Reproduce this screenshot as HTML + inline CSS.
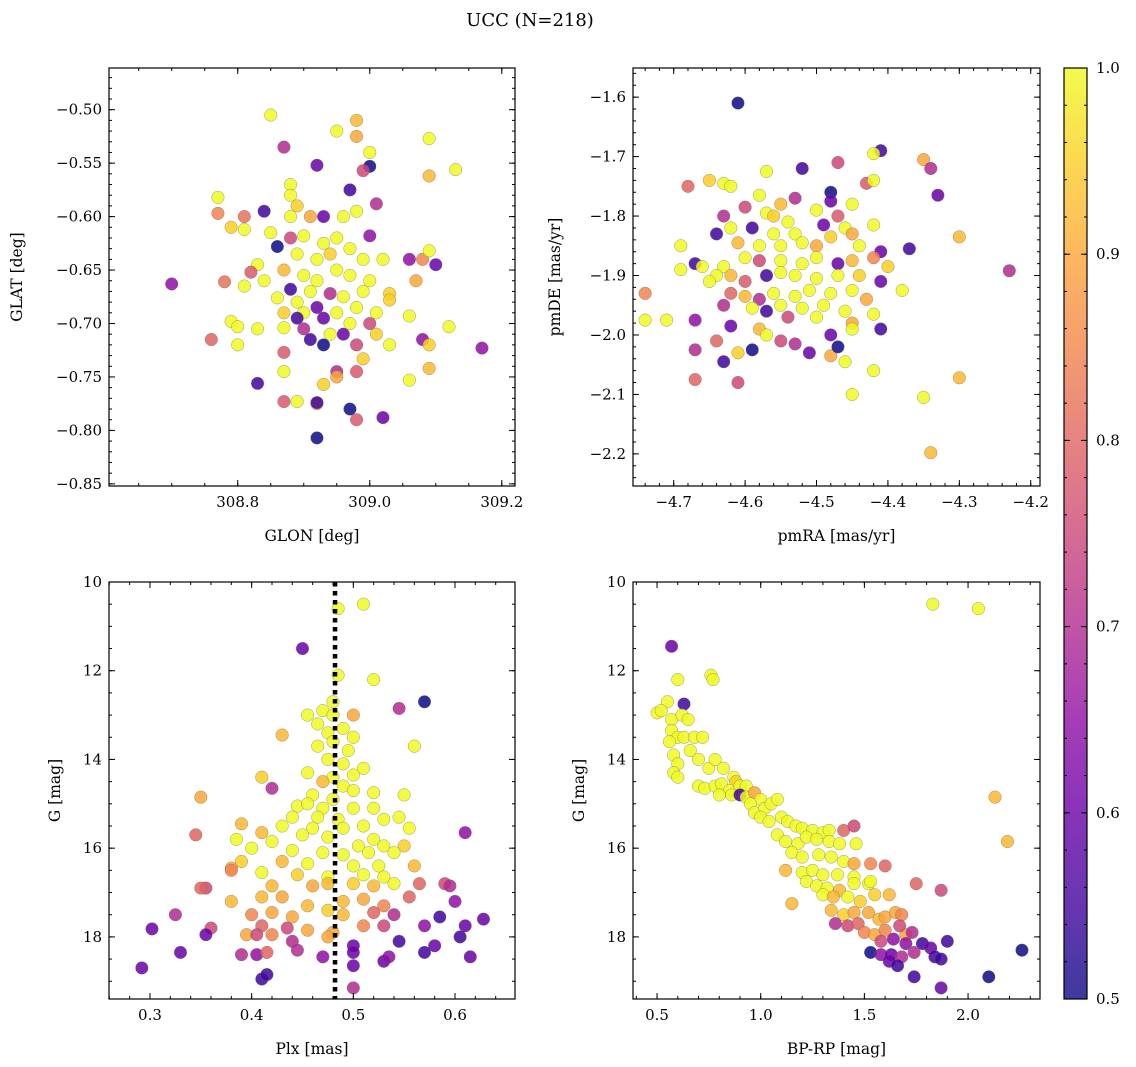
<!DOCTYPE html>
<html><head><meta charset="utf-8"><style>
html,body{margin:0;padding:0;background:#fff;}
svg{display:block;font-family:"DejaVu Serif","Liberation Serif",serif;}
</style></head><body>
<svg id="fig" width="1136" height="1067" xmlns="http://www.w3.org/2000/svg">
<text x="530" y="26" text-anchor="middle" font-size="18">UCC (N=218)</text>
</svg>
<script>
// ---------- Panel 1: GLON / GLAT ----------
const p1Glon=[308.85,308.98,308.95,308.98,309.09,308.87,309.0,308.92,309.13,309.0,308.99,309.09,308.88,308.97,308.77,308.88,309.01,308.89,308.77,308.81,308.84,308.88,308.91,308.93,308.96,308.98,308.79,308.85,308.88,308.9,308.93,308.95,308.97,309.0,308.81,308.86,308.89,308.92,308.94,308.99,309.02,309.06,309.08,309.09,309.1,308.83,308.87,308.9,308.92,308.95,308.97,309.0,308.82,308.84,308.70,308.78,308.88,308.91,308.94,308.96,308.99,309.03,309.07,308.81,308.86,308.89,308.92,308.95,308.98,309.01,309.03,308.87,308.9,308.93,308.97,309.0,309.06,309.12,308.79,308.8,308.83,308.87,308.9,308.94,308.96,309.01,308.89,308.91,309.03,309.08,309.09,308.76,308.8,308.93,308.98,309.17,308.87,308.99,308.95,308.98,308.87,309.09,308.95,308.93,308.83,309.06,308.87,308.89,308.92,308.92,308.97,308.98,309.02,308.92];
const p1Glat=[-0.505,-0.51,-0.52,-0.525,-0.527,-0.535,-0.54,-0.552,-0.556,-0.553,-0.557,-0.562,-0.57,-0.575,-0.582,-0.58,-0.588,-0.59,-0.597,-0.60,-0.595,-0.60,-0.6,-0.6,-0.6,-0.595,-0.61,-0.615,-0.62,-0.618,-0.625,-0.62,-0.63,-0.618,-0.612,-0.628,-0.635,-0.64,-0.635,-0.64,-0.64,-0.64,-0.64,-0.632,-0.645,-0.645,-0.65,-0.655,-0.66,-0.65,-0.655,-0.66,-0.652,-0.66,-0.663,-0.661,-0.668,-0.67,-0.672,-0.675,-0.67,-0.672,-0.66,-0.665,-0.676,-0.68,-0.685,-0.69,-0.685,-0.69,-0.678,-0.69,-0.69,-0.695,-0.7,-0.7,-0.693,-0.703,-0.698,-0.703,-0.705,-0.704,-0.705,-0.71,-0.71,-0.71,-0.695,-0.715,-0.72,-0.715,-0.72,-0.715,-0.72,-0.72,-0.72,-0.723,-0.727,-0.733,-0.745,-0.745,-0.745,-0.742,-0.75,-0.757,-0.756,-0.753,-0.773,-0.773,-0.775,-0.774,-0.78,-0.79,-0.788,-0.807];
const p1Prob=[1,0.92,1,0.9,1,0.7,1,0.6,1,0.5,0.75,0.92,1,0.55,1,1,0.7,0.95,0.85,0.82,0.55,1,0.9,0.6,1,1,0.95,1,0.75,1,1,1,1,0.65,1,0.5,1,1,0.95,1,1,0.65,0.85,1,0.6,1,0.92,1,1,1,1,1,0.78,1,0.65,0.82,0.55,1,0.7,1,1,0.95,0.9,1,1,1,0.6,1,1,1,0.95,0.95,1,0.6,1,0.75,1,1,1,1,1,1,0.7,1,0.6,0.95,0.55,0.55,1,0.65,0.95,0.8,1,0.5,0.75,0.65,0.78,0.95,0.7,0.78,1,0.92,0.9,0.95,0.55,1,0.78,1,0.9,0.55,0.5,0.78,0.6,0.5];
// ---------- Panel 2: pmRA / pmDE ----------
const p2PmRA=[-4.61,-4.41,-4.42,-4.35,-4.34,-4.47,-4.68,-4.65,-4.63,-4.62,-4.57,-4.52,-4.48,-4.48,-4.43,-4.42,-4.33,-4.58,-4.55,-4.53,-4.6,-4.57,-4.56,-4.54,-4.5,-4.47,-4.45,-4.63,-4.62,-4.59,-4.56,-4.53,-4.49,-4.46,-4.45,-4.42,-4.3,-4.64,-4.61,-4.58,-4.55,-4.52,-4.5,-4.48,-4.44,-4.41,-4.37,-4.69,-4.67,-4.66,-4.63,-4.6,-4.58,-4.55,-4.52,-4.5,-4.47,-4.45,-4.42,-4.4,-4.23,-4.69,-4.64,-4.62,-4.6,-4.57,-4.55,-4.53,-4.5,-4.47,-4.44,-4.41,-4.38,-4.74,-4.65,-4.62,-4.6,-4.58,-4.56,-4.53,-4.51,-4.48,-4.45,-4.43,-4.63,-4.59,-4.57,-4.55,-4.52,-4.49,-4.46,-4.42,-4.74,-4.71,-4.67,-4.62,-4.58,-4.54,-4.5,-4.45,-4.41,-4.48,-4.45,-4.64,-4.57,-4.55,-4.53,-4.51,-4.67,-4.63,-4.61,-4.59,-4.48,-4.46,-4.47,-4.42,-4.67,-4.61,-4.3,-4.45,-4.35,-4.34];
const p2PmDE=[-1.61,-1.69,-1.695,-1.705,-1.72,-1.71,-1.75,-1.74,-1.745,-1.75,-1.725,-1.72,-1.76,-1.775,-1.745,-1.74,-1.765,-1.765,-1.78,-1.77,-1.785,-1.795,-1.8,-1.81,-1.79,-1.8,-1.78,-1.8,-1.82,-1.82,-1.83,-1.83,-1.815,-1.82,-1.83,-1.815,-1.835,-1.83,-1.845,-1.85,-1.85,-1.845,-1.85,-1.835,-1.85,-1.86,-1.855,-1.85,-1.88,-1.885,-1.885,-1.87,-1.875,-1.875,-1.88,-1.87,-1.88,-1.875,-1.87,-1.885,-1.892,-1.89,-1.9,-1.9,-1.91,-1.9,-1.895,-1.9,-1.905,-1.9,-1.9,-1.91,-1.925,-1.93,-1.91,-1.93,-1.935,-1.94,-1.93,-1.935,-1.925,-1.93,-1.925,-1.94,-1.95,-1.955,-1.96,-1.95,-1.955,-1.95,-1.96,-1.965,-1.975,-1.975,-1.975,-1.985,-1.99,-1.97,-1.97,-1.98,-1.99,-2.0,-1.99,-2.01,-2.0,-2.01,-2.015,-2.03,-2.025,-2.045,-2.03,-2.025,-2.035,-2.045,-2.02,-2.06,-2.075,-2.08,-2.072,-2.1,-2.105,-2.198];
const p2Prob=[0.5,0.55,1,0.9,0.7,0.75,0.8,0.95,1,1,1,0.55,0.5,0.6,0.78,1,0.6,1,0.92,0.7,0.75,1,0.95,1,1,0.78,1,0.7,1,0.55,1,1,0.6,1,0.9,1,0.92,0.55,0.92,1,1,1,0.9,0.95,1,0.6,0.55,1,0.55,1,1,1,0.75,1,1,1,0.6,0.92,0.85,0.95,0.7,1,1,0.92,0.78,0.55,1,1,1,1,0.95,0.6,1,0.85,1,0.8,0.92,0.7,1,1,1,1,1,0.9,0.7,1,0.55,1,1,1,1,1,1,1,0.65,0.6,0.92,0.75,1,0.9,0.55,0.6,1,0.8,1,0.75,0.7,0.6,0.7,0.55,0.95,0.5,0.9,1,0.5,1,0.8,0.75,0.92,1,1,0.92];
// ---------- Panel 3: Plx / G ----------
const p3Plx=[0.485,0.51,0.45,0.485,0.52,0.57,0.48,0.47,0.48,0.5,0.455,0.545,0.465,0.49,0.475,0.5,0.43,0.48,0.465,0.495,0.56,0.475,0.49,0.51,0.5,0.48,0.41,0.455,0.47,0.49,0.42,0.5,0.52,0.35,0.46,0.48,0.55,0.445,0.455,0.47,0.5,0.52,0.44,0.465,0.485,0.53,0.545,0.39,0.43,0.46,0.49,0.51,0.555,0.345,0.41,0.45,0.475,0.52,0.61,0.385,0.42,0.505,0.53,0.55,0.4,0.44,0.47,0.49,0.515,0.54,0.39,0.43,0.455,0.5,0.525,0.56,0.38,0.41,0.445,0.475,0.51,0.53,0.355,0.35,0.38,0.42,0.46,0.475,0.5,0.52,0.54,0.565,0.59,0.595,0.38,0.41,0.43,0.455,0.49,0.51,0.53,0.555,0.6,0.325,0.4,0.42,0.44,0.475,0.49,0.52,0.54,0.585,0.628,0.36,0.41,0.435,0.455,0.48,0.51,0.53,0.57,0.61,0.302,0.355,0.395,0.405,0.42,0.44,0.475,0.5,0.545,0.58,0.605,0.33,0.39,0.405,0.415,0.445,0.47,0.5,0.53,0.535,0.57,0.615,0.292,0.41,0.415,0.5,0.5];
const p3G=[10.6,10.5,11.5,12.1,12.2,12.7,12.7,12.9,13.0,13.0,13.0,12.85,13.2,13.3,13.4,13.5,13.45,13.6,13.7,13.8,13.7,14.0,14.1,14.2,14.35,14.4,14.4,14.3,14.5,14.6,14.65,14.7,14.75,14.85,14.8,14.9,14.8,15.05,15.0,15.1,15.1,15.1,15.3,15.3,15.35,15.35,15.3,15.45,15.5,15.55,15.55,15.5,15.55,15.7,15.65,15.7,15.75,15.8,15.65,15.8,15.85,15.95,15.95,15.95,16.0,16.05,16.1,16.15,16.1,16.1,16.3,16.3,16.35,16.4,16.4,16.4,16.45,16.55,16.6,16.65,16.6,16.65,16.9,16.9,16.5,16.85,16.85,16.8,16.8,16.85,16.8,16.8,16.8,16.85,17.2,17.1,17.1,17.3,17.2,17.15,17.3,17.1,17.2,17.5,17.5,17.45,17.55,17.4,17.5,17.45,17.5,17.55,17.6,17.8,17.75,17.8,17.85,17.9,17.75,17.75,17.75,17.75,17.82,17.95,17.95,17.95,17.95,18.1,18.0,18.2,18.1,18.2,18.0,18.35,18.4,18.4,18.35,18.3,18.45,18.35,18.55,18.45,18.35,18.45,18.7,18.95,18.85,18.65,19.15];
const p3Prob=[1,1,0.6,1,1,0.5,1,1,1,0.9,1,0.7,1,1,1,1,0.92,1,1,1,1,1,1,1,1,1,0.95,1,0.92,1,0.7,1,1,0.9,1,1,1,1,1,1,1,1,1,1,1,1,1,0.92,1,1,1,1,1,0.8,0.92,1,1,1,0.65,1,1,1,1,0.95,1,1,1,1,1,1,0.95,0.92,1,1,1,0.92,0.9,1,0.95,1,1,1,0.75,0.8,0.85,0.92,0.9,0.92,0.95,0.92,1,0.8,0.75,0.7,0.92,0.92,0.9,0.92,0.92,0.9,0.85,0.8,0.65,0.7,0.85,0.9,0.9,0.95,0.92,0.8,0.7,0.55,0.6,0.75,0.8,0.75,0.9,0.9,0.85,0.75,0.65,0.6,0.6,0.6,0.9,0.75,0.85,0.7,0.9,0.6,0.55,0.6,0.55,0.6,0.7,0.65,0.8,0.7,0.65,0.6,0.6,0.65,0.55,0.6,0.6,0.55,0.55,0.6,0.7];
const plxLine=0.482;
// ---------- Panel 4: BP-RP / G ----------
const p4BpRp=[1.83,2.05,0.57,0.6,0.76,0.77,0.55,0.5,0.52,0.63,0.57,0.62,0.65,0.57,0.6,0.63,0.56,0.68,0.72,0.58,0.6,0.66,0.7,0.75,0.78,0.82,0.58,0.6,0.87,0.88,0.7,0.73,0.78,0.81,0.85,0.9,0.93,0.8,0.86,0.9,0.93,0.97,1.0,0.95,0.97,1.02,1.05,1.08,2.13,1.0,1.04,1.1,1.13,1.17,1.2,1.25,1.3,1.33,1.4,1.45,1.08,1.12,1.18,1.22,1.27,1.33,1.38,1.46,2.19,1.15,1.2,1.28,1.34,1.4,1.45,1.53,1.6,1.12,1.2,1.25,1.3,1.37,1.45,1.22,1.27,1.32,1.38,1.45,1.52,1.53,1.75,1.87,1.15,1.3,1.35,1.42,1.48,1.55,1.62,1.34,1.4,1.45,1.52,1.57,1.6,1.65,1.68,1.7,1.36,1.42,1.47,1.5,1.55,1.6,1.67,1.73,1.58,1.64,1.7,1.78,1.82,1.9,1.53,1.58,1.63,1.68,1.74,1.84,1.87,1.62,1.66,1.74,1.87,2.1,2.26];
const p4G=[10.5,10.6,11.45,12.2,12.1,12.2,12.7,12.95,12.9,12.75,13.1,13.0,13.1,13.35,13.5,13.5,13.6,13.5,13.5,13.9,14.1,13.8,14.0,14.2,14.0,14.2,14.3,14.4,14.4,14.5,14.6,14.65,14.6,14.55,14.7,14.6,14.6,14.8,14.8,14.8,14.85,14.75,14.9,15.0,15.2,15.1,15.0,14.9,14.85,15.3,15.4,15.3,15.4,15.5,15.55,15.6,15.65,15.6,15.6,15.5,15.7,15.85,15.9,15.75,15.8,15.85,15.9,15.9,15.85,16.1,16.2,16.15,16.2,16.3,16.35,16.35,16.4,16.5,16.55,16.5,16.6,16.6,16.65,16.75,16.85,16.9,16.95,16.8,16.8,16.75,16.8,16.95,17.25,17.05,17.1,17.1,17.2,17.05,17.05,17.4,17.5,17.45,17.45,17.6,17.55,17.45,17.5,17.95,17.7,17.75,17.7,17.9,17.95,17.85,17.75,17.9,18.1,18.05,18.15,18.15,18.25,18.1,18.35,18.4,18.4,18.45,18.35,18.45,18.5,18.55,18.65,18.9,19.15,18.9,18.3];
const p4Prob=[1,1,0.6,1,1,1,1,1,1,0.55,1,1,1,1,1,1,1,1,1,1,1,1,1,1,1,1,1,1,1,0.95,1,1,1,1,1,1,1,1,1,0.55,1,0.9,1,1,1,1,1,1,0.92,1,1,1,1,1,1,1,1,1,0.8,0.75,1,1,1,1,1,1,1,1,0.92,1,1,1,1,1,0.9,0.85,0.8,0.92,1,1,1,1,1,1,1,1,0.92,1,1,1,0.8,0.75,0.92,1,0.92,1,0.95,0.95,0.92,0.92,0.95,0.9,0.9,0.92,0.9,0.9,0.85,0.9,0.7,0.75,0.8,0.85,0.9,0.85,0.75,0.7,0.75,0.65,0.65,0.55,0.6,0.55,0.5,0.65,0.6,0.7,0.7,0.55,0.55,0.6,0.55,0.55,0.6,0.5,0.5];
// ---------- Colorbar ----------
const cbTicks=[0.5,0.6,0.7,0.8,0.9,1.0];

const NS="http://www.w3.org/2000/svg";
const svg=document.getElementById('fig');
function mk(tag,attrs,parent){const e=document.createElementNS(NS,tag);for(const k in attrs)e.setAttribute(k,attrs[k]);(parent||svg).appendChild(e);return e;}
const stops=["#0d0887","#41049d","#6a00a8","#8f0da4","#b12a90","#cc4778","#e16462","#f2844b","#fca636","#fcce25","#f0f921"];
function hex(h){return [parseInt(h.substr(1,2),16),parseInt(h.substr(3,2),16),parseInt(h.substr(5,2),16)];}
function plasma(t){t=Math.max(0,Math.min(1,t));const f=t*10,i=Math.min(9,Math.floor(f)),r=f-i;const a=hex(stops[i]),b=hex(stops[i+1]);return `rgb(${a.map((v,k)=>Math.round(v+(b[k]-v)*r)).join(',')})`;}
function cnorm(v){return (v-0.5)/0.5;}
function fmt(v,d){return v.toFixed(d).replace('-','\u2212');}

function panel(o){
  const g=mk('g',{});
  
  
  const {x0,x1,y0,y1}=o;
  const sx=v=>x0+(v-o.xmin)/(o.xmax-o.xmin)*(x1-x0);
  const sy=o.inv? (v=>y0+(v-o.ymin)/(o.ymax-o.ymin)*(y1-y0)) : (v=>y1-(v-o.ymin)/(o.ymax-o.ymin)*(y1-y0));
  const clip='c'+o.name;
  const cp=mk('clipPath',{id:clip},g);mk('rect',{x:x0,y:y0,width:x1-x0,height:y1-y0},cp);
  const pts=mk('g',{'clip-path':`url(#${clip})`},g);
  
  
  for(let i=0;i<o.xs.length;i++){
    const c=mk('circle',{cx:sx(o.xs[i]),cy:sy(o.ys[i]),r:6.3,fill:plasma(cnorm(o.cs[i])),'fill-opacity':0.85,stroke:'#666','stroke-width':0.4,'stroke-opacity':0.8},pts);
    
    
  }
  if(o.vline!==undefined){
    const l=mk('line',{x1:sx(o.vline),x2:sx(o.vline),y1:y0,y2:y1,stroke:'#000','stroke-width':4.5,'stroke-dasharray':'4.5 4.5'},pts);
    
    
  }
  const fr=mk('rect',{x:x0,y:y0,width:x1-x0,height:y1-y0,fill:'none',stroke:'#000','stroke-width':1.2},g);
  
  
  const eps=1e-9;
  for(let v=Math.ceil(o.xmin/o.xminor)*o.xminor;v<=o.xmax+eps;v+=o.xminor){const X=sx(v);mk('line',{x1:X,x2:X,y1:y1,y2:y1-3,stroke:'#000'},g);mk('line',{x1:X,x2:X,y1:y0,y2:y0+3,stroke:'#000'},g);}
  for(let v=Math.ceil(o.ymin/o.yminor)*o.yminor;v<=o.ymax+eps;v+=o.yminor){const Y=sy(v);mk('line',{x1:x0,x2:x0+3,y1:Y,y2:Y,stroke:'#000'},g);mk('line',{x1:x1,x2:x1-3,y1:Y,y2:Y,stroke:'#000'},g);}
  o.xticks.forEach(v=>{const X=sx(v);mk('line',{x1:X,x2:X,y1:y1,y2:y1-6,stroke:'#000'},g);mk('line',{x1:X,x2:X,y1:y0,y2:y0+6,stroke:'#000'},g);
    const t=mk('text',{x:X,y:y1+21,'text-anchor':'middle','font-size':15},g);t.textContent=fmt(v,o.xd);
    });
  o.yticks.forEach(v=>{const Y=sy(v);mk('line',{x1:x0,x2:x0+6,y1:Y,y2:Y,stroke:'#000'},g);mk('line',{x1:x1,x2:x1-6,y1:Y,y2:Y,stroke:'#000'},g);
    const t=mk('text',{x:x0-7,y:Y+5,'text-anchor':'end','font-size':15},g);t.textContent=fmt(v,o.yd);
    });
  const xl=mk('text',{x:(x0+x1)/2,y:y1+55,'text-anchor':'middle','font-size':15.5},g);xl.textContent=o.xlabel;
  
  const yl=mk('text',{x:o.ylx,y:(y0+y1)/2,'text-anchor':'middle','font-size':15.5,transform:`rotate(-90 ${o.ylx} ${(y0+y1)/2})`},g);yl.textContent=o.ylabel;
  
}
const R=(a,b,s)=>{const r=[];for(let v=a;v<=b+1e-9;v+=s)r.push(Math.round(v*1000)/1000);return r;};
panel({name:'glon-glat-panel',x0:109,x1:515,y0:68,y1:486,xmin:308.605,xmax:309.22,ymin:-0.852,ymax:-0.461,xs:p1Glon,ys:p1Glat,cs:p1Prob,
  xticks:[308.8,309.0,309.2],xd:1,xminor:0.05,yticks:R(-0.85,-0.5,0.05),yd:2,yminor:0.01,xlabel:'GLON [deg]',ylabel:'GLAT [deg]',ylx:22});
panel({name:'pm-panel',x0:633,x1:1040,y0:68,y1:486,xmin:-4.757,xmax:-4.187,ymin:-2.254,ymax:-1.551,xs:p2PmRA,ys:p2PmDE,cs:p2Prob,
  xticks:R(-4.7,-4.2,0.1),xd:1,xminor:0.02,yticks:R(-2.2,-1.6,0.1),yd:1,yminor:0.02,xlabel:'pmRA [mas/yr]',ylabel:'pmDE [mas/yr]',ylx:560});
panel({name:'plx-g-panel',x0:109,x1:515,y0:582,y1:999,xmin:0.2597,xmax:0.659,ymin:10,ymax:19.40,inv:true,xs:p3Plx,ys:p3G,cs:p3Prob,vline:plxLine,
  xticks:R(0.3,0.6,0.1),xd:1,xminor:0.02,yticks:R(10,18,2),yd:0,yminor:0.5,xlabel:'Plx [mas]',ylabel:'G [mag]',ylx:60});
panel({name:'cmd-panel',x0:633,x1:1040,y0:582,y1:999,xmin:0.384,xmax:2.347,ymin:10,ymax:19.40,inv:true,xs:p4BpRp,ys:p4G,cs:p4Prob,
  xticks:R(0.5,2.0,0.5),xd:1,xminor:0.1,yticks:R(10,18,2),yd:0,yminor:0.5,xlabel:'BP-RP [mag]',ylabel:'G [mag]',ylx:584});

const cb=mk('g',{});


const cy0=68,cy1=999,cx0=1064,cx1=1087;
const gr=mk('linearGradient',{id:'cbg',x1:0,y1:1,x2:0,y2:0},cb);
for(let i=0;i<=10;i++)mk('stop',{offset:i/10,'stop-color':stops[i],'stop-opacity':0.8},gr);
mk('rect',{x:cx0,y:cy0,width:cx1-cx0,height:cy1-cy0,fill:'url(#cbg)',stroke:'#000','stroke-width':1.2},cb);
const cbY=v=>cy1-(v-0.5)/0.5*(cy1-cy0);
for(let v=0.5;v<=1.0001;v+=0.02){mk('line',{x1:cx1,x2:cx1-3,y1:cbY(v),y2:cbY(v),stroke:'#000'},cb);mk('line',{x1:cx0,x2:cx0+3,y1:cbY(v),y2:cbY(v),stroke:'#000'},cb);}
cbTicks.forEach(v=>{const Y=cbY(v);mk('line',{x1:cx1,x2:cx1-6,y1:Y,y2:Y,stroke:'#000'},cb);mk('line',{x1:cx0,x2:cx0+6,y1:Y,y2:Y,stroke:'#000'},cb);
  const t=mk('text',{x:cx1+9,y:Y+5,'font-size':15},cb);t.textContent=v.toFixed(1);
  });
</script>
</body></html>
